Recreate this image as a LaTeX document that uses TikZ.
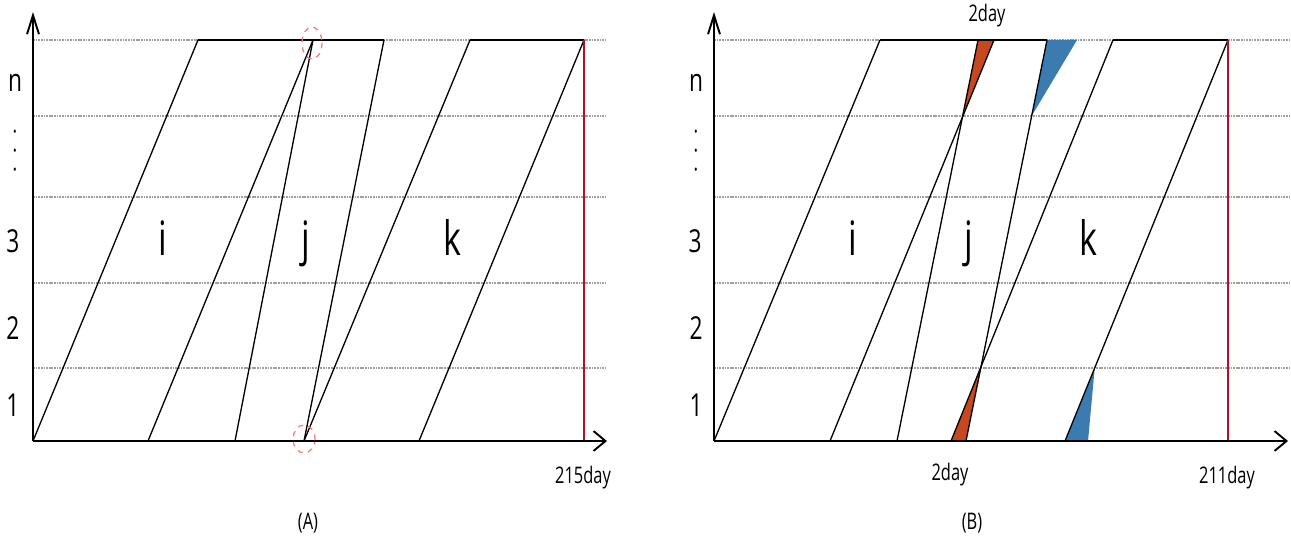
\documentclass[tikz,border=0pt]{standalone}
\usepackage{fontspec}
\setmainfont[FakeStretch=0.72]{Open Sans}
\usetikzlibrary{arrows.meta}

\definecolor{delayred}{HTML}{C5481E}
\definecolor{delayblue}{HTML}{3B7BB0}
\definecolor{limitred}{HTML}{B0102A}
\definecolor{gridgray}{HTML}{A0A0A0}

\tikzstyle{axis} = [black, line width=1.1pt]
\tikzstyle{grid line} = [gridgray, line width=0.9pt, dash pattern=on 1pt off 0.5pt]
\tikzstyle{task} = [black, line width=0.75pt]
\tikzstyle{top bar} = [black, line width=1.2pt]
\tikzstyle{limit} = [limitred, line width=0.8pt]
\tikzstyle{mark circle} = [draw=red!55, dashed, line width=0.7pt]
\tikzstyle{floor label} = [font=\fontsize{18}{20}\selectfont, inner sep=0pt]
\tikzstyle{dot label} = [font=\fontsize{7.5}{8}\selectfont, inner sep=0pt]
\tikzstyle{task label} = [font=\fontsize{27}{30}\selectfont, inner sep=0pt, anchor=base]
\tikzstyle{day label} = [font=\fontsize{13}{15}\selectfont, inner sep=0pt, anchor=base]

\begin{document}
\begin{tikzpicture}[x=0.02cm, y=-0.02cm]
\useasboundingbox (0,0) rectangle (1291,537);

% Panel (A): floors
\foreach \y in {40,116,197,283,368}
  \draw[grid line] (33,\y) -- (606,\y);

% Panel (A): task lines
\coordinate (a1b) at (33,441);  \coordinate (a1t) at (198,40);
\coordinate (a2b) at (148,441); \coordinate (a2t) at (313,40);
\coordinate (a3b) at (235,441); \coordinate (a3t) at (313,40);
\coordinate (a4b) at (304,441); \coordinate (a4t) at (384,40);
\coordinate (a5b) at (304,441); \coordinate (a5t) at (470,40);
\coordinate (a6b) at (419,441); \coordinate (a6t) at (584,40);
\foreach \n in {1,...,6}
  \draw[task] (a\n b) -- (a\n t);
\draw[top bar] (a1t) -- (a4t);
\draw[top bar] (a5t) -- (a6t);

% Panel (A): end day
\coordinate (aend) at (584,441);
\draw[limit] (a6t) -- (aend);

% Panel (A): marks
\draw[mark circle] (312,43) ellipse [x radius=10, y radius=16];
\draw[mark circle] (304,439) ellipse [x radius=11, y radius=14];

% Panel (A): axes
\coordinate (ao) at (33,441);
\coordinate (ay) at (33,12);
\coordinate (ax) at (607,441);
\draw[axis, -{Straight Barb[length=10.8pt, width=6.8pt]}] (ao) -- (ay);
\draw[axis, -{Straight Barb[length=6.8pt, width=11.3pt]}] (ao) -- (ax);

% Panel (A): labels
\node[floor label] (an) at (15,83) {n};
\foreach \y [count=\k] in {133,152,171}
  \node[dot label] (adot\k) at (15,\y) {•};
\node[floor label] (a3) at (13,241) {3};
\node[floor label] (a2) at (13,328) {2};
\node[floor label] (a1) at (13,405) {1};
\node[task label] (ai) at (163,255) {i};
\node[task label] (aj) at (306,255) {j};
\node[task label] (ak) at (452,255) {k};
\node[day label] (aday) at (583,483) {215day};
\node[day label, anchor=center] (acap) at (308,523) {(A)};

% Panel (B): floors
\foreach \y in {40,116,197,283,368}
  \draw[grid line] (714,\y) -- (1291,\y);
\coordinate (g2l) at (714,116); \coordinate (g2r) at (1291,116);
\coordinate (g5l) at (714,368); \coordinate (g5r) at (1291,368);

% Panel (B): task lines
\coordinate (b1b) at (714,441);  \coordinate (b1t) at (880,40);
\coordinate (b2b) at (830,441);  \coordinate (b2t) at (994,40);
\coordinate (b3b) at (897,441);  \coordinate (b3t) at (978,40);
\coordinate (b4b) at (966,441);  \coordinate (b4t) at (1047,40);
\coordinate (b5b) at (951,441);  \coordinate (b5t) at (1113,40);
\coordinate (b6b) at (1065,441); \coordinate (b6t) at (1228,40);

% Panel (B): delays
\fill[delayred] (intersection of b2b--b2t and b3b--b3t) -- (b3t) -- (b2t) -- cycle;
\fill[delayred] (b5b) -- (b4b) -- (intersection of b4b--b4t and b5b--b5t) -- cycle;
\coordinate (bblue1) at (1077,40);
\coordinate (bblue2) at (1088,441);
\fill[delayblue] (intersection of b4b--b4t and g2l--g2r) -- (b4t) -- (bblue1) -- cycle;
\fill[delayblue] (b6b) -- (bblue2) -- (intersection of b6b--b6t and g5l--g5r) -- cycle;

\foreach \n in {1,...,6}
  \draw[task] (b\n b) -- (b\n t);
\draw[top bar] (b1t) -- (b4t);
\draw[top bar] (b5t) -- (b6t);

% Panel (B): end day
\coordinate (bend) at (1228,441);
\draw[limit] (b6t) -- (bend);

% Panel (B): axes
\coordinate (bo) at (714,441);
\coordinate (by) at (714,12);
\coordinate (bx) at (1288,441);
\draw[axis, -{Straight Barb[length=10.8pt, width=6.8pt]}] (bo) -- (by);
\draw[axis, -{Straight Barb[length=6.8pt, width=11.3pt]}] (bo) -- (bx);

% Panel (B): labels
\node[floor label] (bn) at (696,83) {n};
\foreach \y [count=\k] in {133,152,171}
  \node[dot label] (bdot\k) at (696,\y) {•};
\node[floor label] (b3) at (695,241) {3};
\node[floor label] (b2) at (696,328) {2};
\node[floor label] (b1) at (696,405) {1};
\node[task label] (bi) at (853,255) {i};
\node[task label] (bj) at (969,255) {j};
\node[task label] (bk) at (1088,255) {k};
\node[day label] (btop) at (987,22) {2day};
\node[day label] (bbot) at (950,480) {2day};
\node[day label] (bday) at (1227,483) {211day};
\node[day label, anchor=center] (bcap) at (972,523) {(B)};

\end{tikzpicture}
\end{document}
